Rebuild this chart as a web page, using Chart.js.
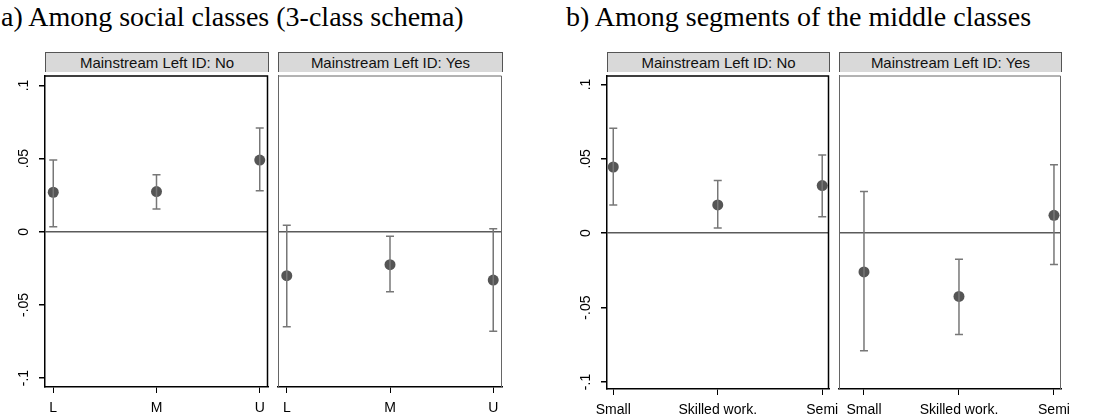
<!DOCTYPE html>
<html lang="en">
<head>
<meta charset="UTF-8">
<title>Mainstream Left ID effects</title>
<script src="https://cdn.jsdelivr.net/npm/chart.js@4.4.1/dist/chart.umd.min.js"></script>
<style>
  body { margin: 0; background: #fff; }
  #wrap { position: relative; width: 1097px; height: 416px; overflow: hidden; font-family: Arial, "Liberation Sans", sans-serif; }
  .title { position: absolute; top: 3px; font-family: "Liberation Serif", "Times New Roman", serif; font-size: 28px; line-height: 27px; color: #000; white-space: nowrap; }
  .strip { position: absolute; top: 52px; height: 19px; background: #d9d9d9; border: 1px solid #555; border-bottom: none;
           font-size: 15px; line-height: 19px; text-align: center; color: #111; box-sizing: content-box; }
  canvas { position: absolute; }
</style>
</head>
<body>
<div id="wrap">
  <div class="title" style="left:1px">a) Among social classes (3-class schema)</div>
  <div class="title" style="left:566px">b) Among segments of the middle classes</div>
  <div class="strip" style="left:45px;width:222px">Mainstream Left ID: No</div>
  <div class="strip" style="left:278px;width:223px">Mainstream Left ID: Yes</div>
  <div class="strip" style="left:607px;width:221px">Mainstream Left ID: No</div>
  <div class="strip" style="left:839px;width:221px">Mainstream Left ID: Yes</div>
  <canvas id="aNo"></canvas>
  <canvas id="aYes"></canvas>
  <canvas id="bNo"></canvas>
  <canvas id="bYes"></canvas>
</div>
<script>
// categories
var classesA = ['L', 'M', 'U'];
var classesB = ['Small', 'Skilled work.', 'Semi'];

// y ticks
var yTicks = [-0.1, -0.05, 0, 0.05, 0.1];
var yTickLabels = ['-.1', '-.05', '0', '.05', '.1'];

// a) 3-class schema, Mainstream Left ID: No / Yes
var aNoEst = [0.027, 0.0275, 0.049];
var aNoLo  = [0.0035, 0.0155, 0.028];
var aNoHi  = [0.049, 0.039, 0.071];
var aYesEst = [-0.030, -0.0225, -0.033];
var aYesLo  = [-0.065, -0.041, -0.068];
var aYesHi  = [0.0045, -0.003, 0.002];

// b) middle-class segments, Mainstream Left ID: No / Yes
var bNoEst = [0.0445, 0.019, 0.032];
var bNoLo  = [0.019, 0.0035, 0.011];
var bNoHi  = [0.0705, 0.0355, 0.0525];
var bYesEst = [-0.026, -0.0425, 0.012];
var bYesLo  = [-0.079, -0.068, -0.021];
var bYesHi  = [0.028, -0.0175, 0.046];

var markerColor = '#555555';
var barColor = '#777777';

function whiskers(lo, hi) {
    var d = [];
    lo.forEach(function (v, i) {
        d.push({ x: i, y: v }, { x: i, y: hi[i] }, { x: i, y: null });
    });
    return d;
}

var framePlugin = {
    id: 'frame',
    afterDraw: function (chart, args, opts) {
        var a = chart.chartArea, ctx = chart.ctx;
        ctx.save();
        ctx.strokeStyle = opts.color;
        ctx.lineWidth = opts.width;
        ctx.beginPath();
        ctx.moveTo(a.left, a.top + 0.5);
        ctx.lineTo(a.right - 0.5, a.top + 0.5);
        ctx.lineTo(a.right - 0.5, a.bottom);
        ctx.stroke();
        ctx.restore();
    }
};

function panel(id, cfg) {
    var cv = document.getElementById(id);
    cv.width = cfg.canvasRight - cfg.canvasLeft;
    cv.height = 416 - 70;
    cv.style.left = cfg.canvasLeft + 'px';
    cv.style.top = '70px';
    var yW = cfg.showY ? 45 : 0;
    var xH = 416 - cfg.bottom;

    new Chart(cv, {
        type: 'scatter',
        data: {
            datasets: [
                {
                    type: 'line',
                    data: whiskers(cfg.lo, cfg.hi),
                    showLine: true,
                    spanGaps: false,
                    borderColor: barColor,
                    borderWidth: 1.5,
                    pointStyle: 'line',
                    pointRadius: 4,
                    pointBorderWidth: 1.5,
                    pointBorderColor: barColor
                },
                {
                    data: cfg.est.map(function (v, i) { return { x: i, y: v }; }),
                    pointRadius: 5.5,
                    pointBackgroundColor: markerColor,
                    pointBorderWidth: 0
                }
            ]
        },
        options: {
            responsive: false,
            animation: false,
            devicePixelRatio: 1,
            layout: {
                padding: {
                    top: 2,
                    bottom: 0,
                    left: cfg.chartLeft - cfg.canvasLeft - yW,
                    right: cfg.canvasRight - cfg.chartRight
                }
            },
            plugins: {
                legend: { display: false },
                tooltip: { enabled: false },
                frame: { color: cfg.frameColor, width: cfg.showY ? 1.5 : 1 }
            },
            scales: {
                x: {
                    type: 'linear',
                    min: cfg.xmin,
                    max: cfg.xmax,
                    afterBuildTicks: function (s) { s.ticks = cfg.cats.map(function (c, i) { return { value: i }; }); },
                    afterFit: function (s) { s.height = xH; s.paddingLeft = 0; s.paddingRight = 0; },
                    border: { color: '#000', width: 1.5 },
                    grid: { drawOnChartArea: false, tickColor: '#000', tickLength: 6 },
                    ticks: {
                        color: '#000',
                        font: { family: 'Arial', size: 14 },
                        padding: 7,
                        maxRotation: 0,
                        autoSkip: false,
                        callback: function (v) { return cfg.cats[v]; }
                    }
                },
                y: {
                    min: cfg.ymin,
                    max: cfg.ymax,
                    afterBuildTicks: function (s) { s.ticks = yTicks.map(function (v) { return { value: v }; }); },
                    afterFit: function (s) { s.width = yW; s.paddingTop = 0; s.paddingBottom = 0; },
                    border: { color: cfg.showY ? '#000' : cfg.frameColor, width: cfg.showY ? 1.5 : 1 },
                    grid: {
                        drawTicks: cfg.showY,
                        tickLength: 6,
                        tickColor: '#000',
                        lineWidth: 1.5,
                        color: function (c) { return c.tick && c.tick.value === 0 ? '#5a5a5a' : 'rgba(0,0,0,0)'; }
                    },
                    ticks: {
                        display: cfg.showY,
                        color: '#000',
                        font: { family: 'Arial', size: 14 },
                        minRotation: 90,
                        maxRotation: 90,
                        crossAlign: 'center',
                        padding: 3,
                        callback: function (v) {
                            var k = yTicks.indexOf(v);
                            return k >= 0 ? yTickLabels[k] : '';
                        }
                    }
                }
            }
        },
        plugins: [framePlugin]
    });
}

panel('aNo', { canvasLeft: 0, canvasRight: 275, chartLeft: 45, chartRight: 268, bottom: 387,
    cats: classesA, est: aNoEst, lo: aNoLo, hi: aNoHi, xmin: -0.08, xmax: 2.08,
    ymin: -0.1061, ymax: 0.1068, showY: true, frameColor: '#000' });
panel('aYes', { canvasLeft: 272, canvasRight: 515, chartLeft: 278, chartRight: 502, bottom: 387,
    cats: classesA, est: aYesEst, lo: aYesLo, hi: aYesHi, xmin: -0.085, xmax: 2.085,
    ymin: -0.1061, ymax: 0.1068, showY: false, frameColor: '#666' });
panel('bNo', { canvasLeft: 555, canvasRight: 860, chartLeft: 607, chartRight: 829, bottom: 389,
    cats: classesB, est: bNoEst, lo: bNoLo, hi: bNoHi, xmin: -0.06, xmax: 2.065,
    ymin: -0.1047, ymax: 0.106, showY: true, frameColor: '#000' });
panel('bYes', { canvasLeft: 833, canvasRight: 1097, chartLeft: 839, chartRight: 1061, bottom: 389,
    cats: classesB, est: bYesEst, lo: bYesLo, hi: bYesHi, xmin: -0.263, xmax: 2.074,
    ymin: -0.1047, ymax: 0.106, showY: false, frameColor: '#666' });
</script>
</body>
</html>
